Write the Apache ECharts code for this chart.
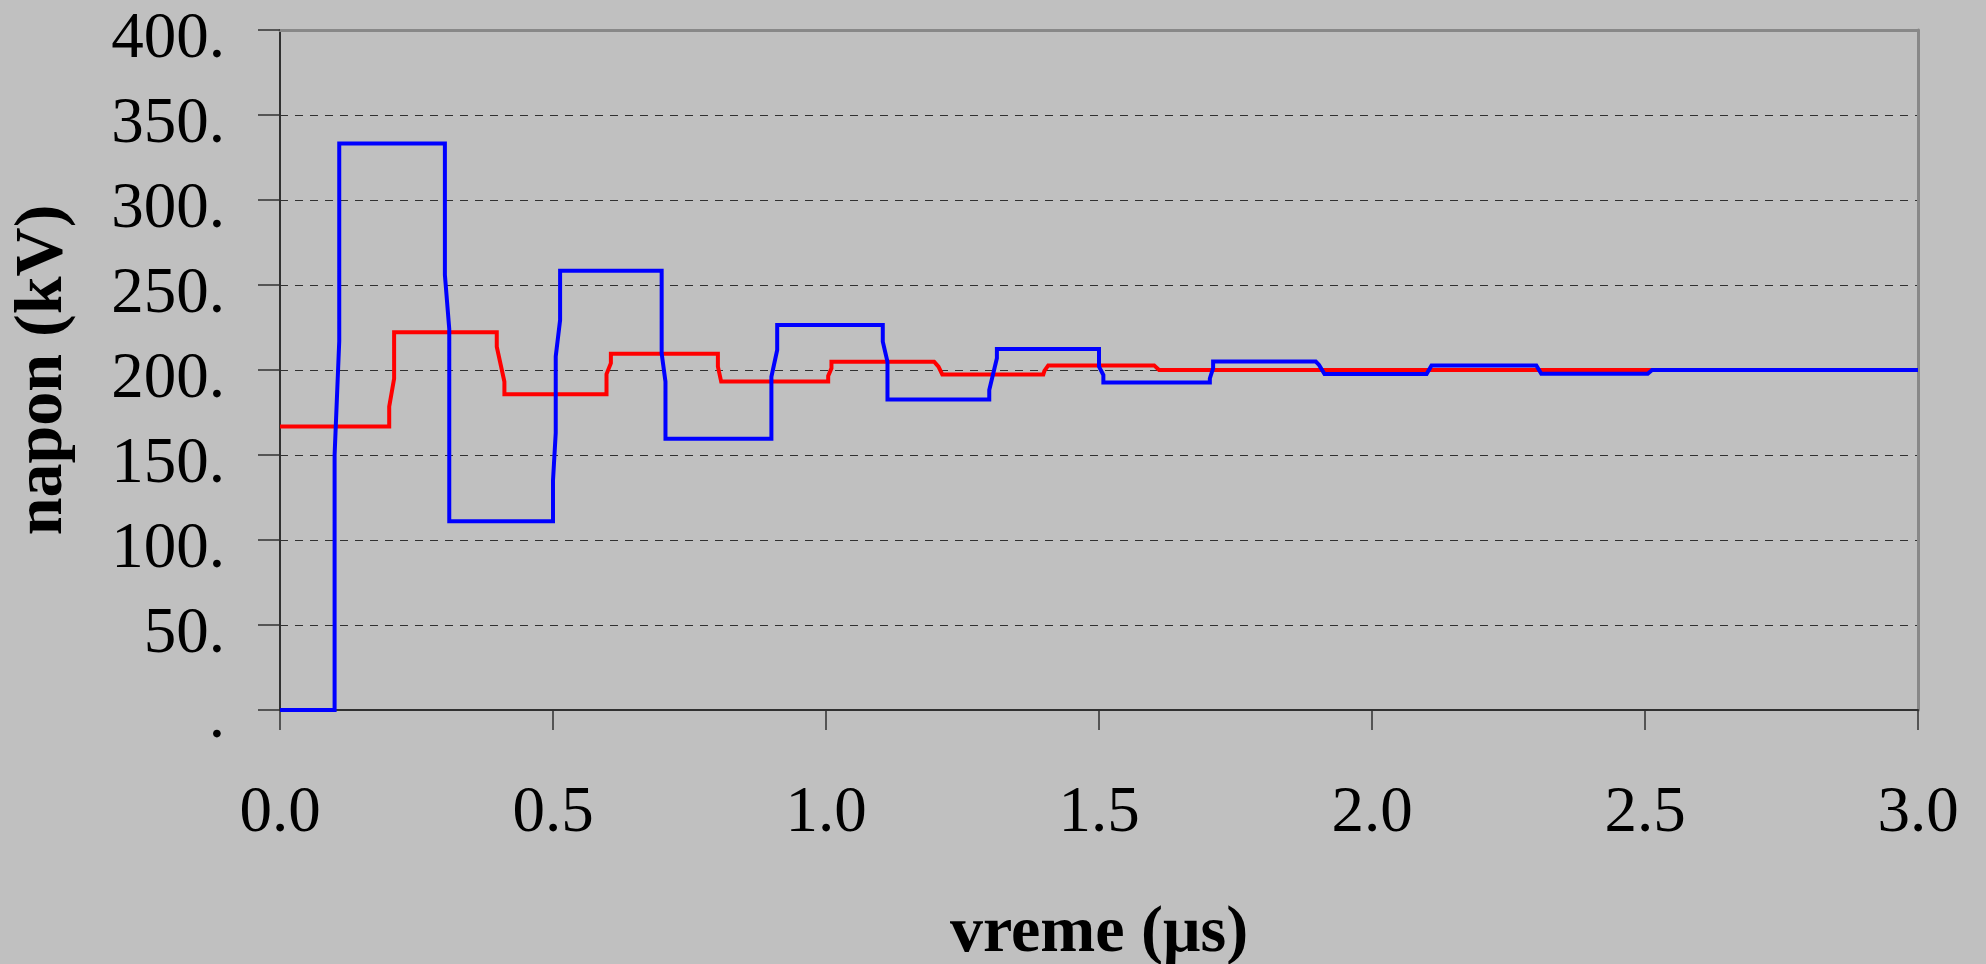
<!DOCTYPE html>
<html>
<head>
<meta charset="utf-8">
<script src="https://cdn.jsdelivr.net/npm/echarts@6/dist/echarts.min.js"></script>
<style>
  html, body { margin: 0; padding: 0; background: #C0C0C0; }
  #chart { width: 1986px; height: 964px; }
</style>
</head>
<body>
<div id="chart"></div>
<script>
// ---- data (time in µs, voltage in kV) ----
const redTime = [0, 0.2, 0.2, 0.209, 0.209, 0.397, 0.397, 0.411, 0.411, 0.598, 0.598, 0.606, 0.606,
  0.802, 0.802, 0.808, 0.808, 1.004, 1.004, 1.010, 1.010, 1.198, 1.206, 1.213, 1.398, 1.400, 1.407,
  1.601, 1.610, 3.0];
const redVolt = [166.7, 166.7, 178.4, 195, 222.2, 222.2, 213.7, 193.1, 185.7, 185.7, 197.6, 204, 209.6,
  209.6, 202, 193.2, 193.2, 193.2, 196.5, 201, 204.9, 204.9, 202, 197.4, 197.4, 199.5, 202.7,
  202.7, 200, 200];

const blueTime = [0, 0.1, 0.1, 0.1085, 0.1085, 0.302, 0.302, 0.310, 0.310, 0.5, 0.5, 0.505, 0.505,
  0.513, 0.513, 0.699, 0.699, 0.706, 0.706, 0.9, 0.9, 0.9106, 0.9106, 1.104, 1.104, 1.1126, 1.1126,
  1.299, 1.299, 1.313, 1.313, 1.5, 1.5, 1.508, 1.508, 1.703, 1.703, 1.709, 1.709, 1.897, 1.903,
  1.913, 2.100, 2.109, 2.301, 2.310, 2.505, 2.513, 3.0];
const blueVolt = [0, 0, 150, 217, 333.3, 333.3, 256, 224, 111.1, 111.1, 135, 163, 208,
  229.4, 258.4, 258.4, 209.8, 193.1, 159.5, 159.5, 196, 211.8, 226.5, 226.5, 216.7, 204.9, 182.7,
  182.7, 188.2, 206.9, 212.3, 212.3, 202, 197, 192.7, 192.7, 195, 201, 205, 205, 203,
  197.6, 197.6, 202.6, 202.6, 197.8, 197.8, 200, 200];

const xTickLabels = ['0.0', '0.5', '1.0', '1.5', '2.0', '2.5', '3.0'];
const yTickLabels = ['.', '50.', '100.', '150.', '200.', '250.', '300.', '350.', '400.'];

const xTitle = 'vreme (μs)';
const yTitle = 'napon (kV)';

// ---- chart ----
const FONT = '"Liberation Serif", "Times New Roman", serif';
const chart = echarts.init(document.getElementById('chart'), null, { renderer: 'canvas' });

const redData = redTime.map((t, i) => [t, redVolt[i]]);
const blueData = blueTime.map((t, i) => [t, blueVolt[i]]);

chart.setOption({
  animation: false,
  backgroundColor: '#C0C0C0',
  grid: { left: 280, right: 68, top: 30, bottom: 254, containLabel: false, outerBoundsMode: 'none' },
  xAxis: [{
    type: 'value', min: 0, max: 3, interval: 0.5,
    name: xTitle, nameLocation: 'middle', nameGap: 191,
    nameTextStyle: { fontFamily: FONT, fontWeight: 'bold', fontSize: 66, color: '#000' },
    axisLine: { show: true, onZero: false, lineStyle: { color: '#303030', width: 2 } },
    axisTick: { show: true, inside: false, length: 20, lineStyle: { color: '#303030', width: 1.5 } },
    axisLabel: {
      margin: 71, fontFamily: FONT, fontSize: 65, color: '#000',
      formatter: v => xTickLabels[Math.round(v / 0.5)]
    },
    splitLine: { show: false }
  }, {
    type: 'value', min: 0, max: 3, position: 'top',
    axisLine: { show: true, onZero: false, lineStyle: { color: '#888', width: 3 } },
    axisTick: { show: false }, axisLabel: { show: false }, splitLine: { show: false }
  }],
  yAxis: [{
    type: 'value', min: 0, max: 400, interval: 50,
    name: yTitle, nameLocation: 'middle', nameGap: 203, nameRotate: 90,
    nameTextStyle: { fontFamily: FONT, fontWeight: 'bold', fontSize: 68, color: '#000' },
    axisLine: { show: true, onZero: false, lineStyle: { color: '#303030', width: 2 } },
    axisTick: { show: true, inside: false, length: 22, lineStyle: { color: '#303030', width: 1.5 } },
    axisLabel: {
      margin: 55, fontFamily: FONT, fontSize: 65, color: '#000',
      verticalAlign: 'top', lineHeight: 20,
      formatter: v => yTickLabels[Math.round(v / 50)]
    },
    splitLine: { show: true, lineStyle: { color: '#303030', width: 1.2, type: [8, 7] } }
  }, {
    type: 'value', min: 0, max: 400, position: 'right',
    axisLine: { show: true, onZero: false, lineStyle: { color: '#888', width: 3 } },
    axisTick: { show: false }, axisLabel: { show: false }, splitLine: { show: false }
  }],
  series: [{
    name: 'red', type: 'line', data: redData, showSymbol: false, symbol: 'none',
    xAxisIndex: 0, yAxisIndex: 0,
    lineStyle: { color: '#FF0000', width: 4, join: 'miter', cap: 'butt' },
    z: 3
  }, {
    name: 'blue', type: 'line', data: blueData, showSymbol: false, symbol: 'none',
    xAxisIndex: 0, yAxisIndex: 0,
    lineStyle: { color: '#0000FF', width: 4, join: 'miter', cap: 'butt' },
    z: 4
  }]
});
</script>
</body>
</html>
